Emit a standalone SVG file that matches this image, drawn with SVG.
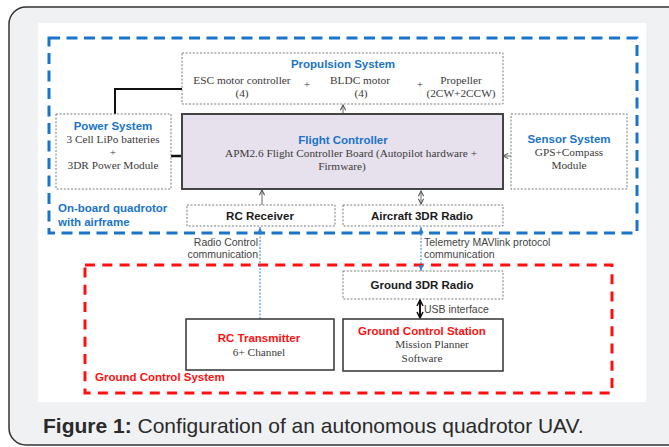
<svg xmlns="http://www.w3.org/2000/svg" width="669" height="447" viewBox="0 0 669 447">
<defs>
<style>
.dot{fill:none;stroke:#7a7a7a;stroke-width:1;stroke-dasharray:2 1.6}
.serif{font-family:"Liberation Serif","Times New Roman",serif;font-size:11.3px;fill:#3a3a3a;text-anchor:middle}
.ttl{font-family:"Liberation Sans",Arial,sans-serif;font-weight:bold;font-size:11.5px;fill:#1a74c9;text-anchor:middle}
.rtl{font-family:"Liberation Sans",Arial,sans-serif;font-weight:bold;font-size:11.5px;fill:#ff1010;text-anchor:middle}
.blk{font-family:"Liberation Sans",Arial,sans-serif;font-weight:bold;font-size:11.5px;fill:#1a1a1a;text-anchor:middle}
.lbl{font-family:"Liberation Sans",Arial,sans-serif;font-size:10.5px;fill:#444}
.gl{stroke:#666;stroke-width:1;fill:none}
.bl{stroke:#2d7fd3;stroke-width:1;fill:none;stroke-dasharray:2 1.5}
</style>
<marker id="ag" viewBox="0 0 8 8" refX="7" refY="4" markerWidth="7" markerHeight="7" orient="auto-start-reverse" markerUnits="userSpaceOnUse"><path d="M1,1 L7,4 L1,7" fill="none" stroke="#555" stroke-width="1.2"/></marker>
<marker id="ab" viewBox="0 0 8 8" refX="7" refY="4" markerWidth="7" markerHeight="7" orient="auto-start-reverse" markerUnits="userSpaceOnUse"><path d="M0,1 L7,4 L0,7 Z" fill="#2d7fd3"/></marker>
<marker id="ak" viewBox="0 0 8 8" refX="7" refY="4" markerWidth="8" markerHeight="8" orient="auto-start-reverse" markerUnits="userSpaceOnUse"><path d="M1,1 L7,4 L1,7" fill="none" stroke="#111" stroke-width="1.5"/></marker>
</defs>
<rect x="0" y="0" width="669" height="447" fill="#fff"/>
<rect x="9" y="7" width="680" height="438" rx="17" fill="#f0f1f3" stroke="#333" stroke-width="1.5"/>
<rect x="38" y="23" width="608" height="379" fill="#fff"/>
<rect id="onboard" x="49" y="38" width="588" height="195" fill="none" stroke="#1a74c9" stroke-width="3" stroke-dasharray="11 6.5"/>
<text x="58" y="212" font-family="Liberation Sans,Arial,sans-serif" font-weight="bold" font-size="11.5" fill="#1a74c9">On-board quadrotor</text>
<text x="58" y="226" font-family="Liberation Sans,Arial,sans-serif" font-weight="bold" font-size="11.5" fill="#1a74c9">with airframe</text>
<rect id="ground" x="85" y="265" width="527" height="128" fill="none" stroke="#ff1010" stroke-width="3" stroke-dasharray="10 7.3"/>
<text x="95" y="381" font-family="Liberation Sans,Arial,sans-serif" font-weight="bold" font-size="11.5" fill="#ff1010">Ground Control System</text>

<g id="connectors">
<path d="M115,114 V89 H182" fill="none" stroke="#111" stroke-width="2"/>
<path d="M171,156 H182" fill="none" stroke="#111" stroke-width="2.5"/>
<path class="gl" d="M343,114 V105" marker-end="url(#ag)"/>
<path class="gl" d="M511,156 H503" marker-end="url(#ag)"/>
<path class="gl" d="M262,205 V190" marker-end="url(#ag)"/>
<path class="gl" d="M421,191 V204" marker-start="url(#ag)" marker-end="url(#ag)"/>
<path class="bl" d="M260,319 V227" marker-end="url(#ab)"/>
<path class="bl" d="M421,227 V271" marker-start="url(#ab)" marker-end="url(#ab)"/>
<path d="M420,300 V318" stroke="#111" stroke-width="2" fill="none" marker-start="url(#ak)" marker-end="url(#ak)"/>
<text class="lbl" x="258" y="246" text-anchor="end">Radio Control</text>
<text class="lbl" x="258" y="258" text-anchor="end">communication</text>
<text class="lbl" x="424" y="246">Telemetry MAVlink protocol</text>
<text class="lbl" x="424" y="258">communication</text>
<text class="lbl" x="424" y="313" font-size="9.5">USB interface</text>
</g>

<g id="propulsion">
<rect class="dot" x="182" y="53" width="321" height="51"/>
<text class="ttl" x="343" y="68">Propulsion System</text>
<text class="serif" x="242" y="84">ESC motor controller</text>
<text class="serif" x="242" y="97" font-size="10">(4)</text>
<text class="serif" x="307" y="88">+</text>
<text class="serif" x="360" y="84">BLDC motor</text>
<text class="serif" x="361" y="97" font-size="10">(4)</text>
<text class="serif" x="420" y="88">+</text>
<text class="serif" x="461" y="84">Propeller</text>
<text class="serif" x="461" y="97" font-size="10">(2CW+2CCW)</text>
</g>

<g id="power">
<rect class="dot" x="56" y="114" width="115" height="75"/>
<text class="ttl" x="113" y="130">Power System</text>
<text class="serif" x="113" y="143">3 Cell LiPo batteries</text>
<text class="serif" x="113" y="156">+</text>
<text class="serif" x="113" y="169">3DR Power Module</text>
</g>

<g id="flight-controller">
<rect x="182" y="114" width="321" height="75" fill="#e7e1ed" stroke="#444" stroke-width="2"/>
<text class="ttl" x="343" y="144" font-size="12">Flight Controller</text>
<text class="serif" x="351" y="157">APM2.6 Flight Controller Board (Autopilot hardware +</text>
<text class="serif" x="342" y="170">Firmware)</text>
</g>

<g id="sensor">
<rect class="dot" x="511" y="114" width="116" height="75"/>
<text class="ttl" x="569" y="143">Sensor System</text>
<text class="serif" x="569" y="156">GPS+Compass</text>
<text class="serif" x="569" y="169">Module</text>
</g>

<g id="rc-receiver">
<rect class="dot" x="187" y="205" width="148" height="21"/>
<text class="blk" x="260" y="220" font-size="12">RC Receiver</text>
</g>

<g id="aircraft-radio">
<rect class="dot" x="343" y="205" width="160" height="21"/>
<text class="blk" x="422" y="220">Aircraft 3DR Radio</text>
</g>

<g id="ground-radio">
<rect class="dot" x="343" y="271" width="160" height="28"/>
<text class="blk" x="422" y="289">Ground 3DR Radio</text>
</g>

<g id="rc-transmitter">
<rect x="186" y="319" width="148" height="51" fill="#fff" stroke="#333" stroke-width="1.5"/>
<text class="rtl" x="259" y="342">RC Transmitter</text>
<text class="serif" x="259" y="356">6+ Channel</text>
</g>

<g id="gcs">
<rect x="343" y="319" width="160" height="52" fill="#fff" stroke="#333" stroke-width="1.5"/>
<text class="rtl" x="422" y="335">Ground Control Station</text>
<text class="serif" x="432" y="348">Mission Planner</text>
<text class="serif" x="422" y="362">Software</text>
</g>

<text x="43" y="433" font-family="Liberation Sans,Arial,sans-serif" font-size="21" fill="#2a2a2a"><tspan font-weight="bold">Figure 1:</tspan> Configuration of an autonomous quadrotor UAV.</text>
</svg>
